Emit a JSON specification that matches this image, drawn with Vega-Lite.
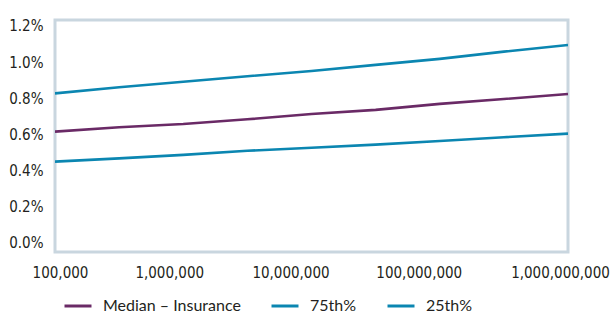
{
  "$schema": "https://vega.github.io/schema/vega-lite/v6.json",
  "width": 513,
  "height": 232,
  "autosize": "none",
  "padding": {"left": 55, "top": 20, "right": 45, "bottom": 63},
  "background": "white",
  "view": {"stroke": "#c9d6df", "strokeWidth": 3},
  "config": {"axis": {"labelFont": "DejaVu Sans Condensed", "labelColor": "#231f20"}},
  "data": {
    "values": [
      {"assets": 100000, "series": "Median – Insurance", "rate": 0.616},
      {"assets": 316228, "series": "Median – Insurance", "rate": 0.640},
      {"assets": 1000000, "series": "Median – Insurance", "rate": 0.658},
      {"assets": 3162278, "series": "Median – Insurance", "rate": 0.684},
      {"assets": 10000000, "series": "Median – Insurance", "rate": 0.713},
      {"assets": 31622777, "series": "Median – Insurance", "rate": 0.736},
      {"assets": 100000000, "series": "Median – Insurance", "rate": 0.769},
      {"assets": 316227766, "series": "Median – Insurance", "rate": 0.796},
      {"assets": 1000000000, "series": "Median – Insurance", "rate": 0.824},
      {"assets": 100000, "series": "75th%", "rate": 0.827},
      {"assets": 316228, "series": "75th%", "rate": 0.861},
      {"assets": 1000000, "series": "75th%", "rate": 0.892},
      {"assets": 3162278, "series": "75th%", "rate": 0.922},
      {"assets": 10000000, "series": "75th%", "rate": 0.951},
      {"assets": 31622777, "series": "75th%", "rate": 0.985},
      {"assets": 100000000, "series": "75th%", "rate": 1.018},
      {"assets": 316227766, "series": "75th%", "rate": 1.058},
      {"assets": 1000000000, "series": "75th%", "rate": 1.095},
      {"assets": 100000, "series": "25th%", "rate": 0.450},
      {"assets": 316228, "series": "25th%", "rate": 0.468},
      {"assets": 1000000, "series": "25th%", "rate": 0.487},
      {"assets": 3162278, "series": "25th%", "rate": 0.510},
      {"assets": 10000000, "series": "25th%", "rate": 0.527},
      {"assets": 31622777, "series": "25th%", "rate": 0.544},
      {"assets": 100000000, "series": "25th%", "rate": 0.564},
      {"assets": 316227766, "series": "25th%", "rate": 0.585},
      {"assets": 1000000000, "series": "25th%", "rate": 0.605}
    ]
  },
  "mark": {"type": "line", "strokeWidth": 2.6, "clip": true},
  "encoding": {
    "x": {
      "field": "assets",
      "type": "quantitative",
      "scale": {"type": "log", "domain": [100000, 1000000000], "nice": false},
      "axis": {
        "title": null,
        "domain": false,
        "ticks": false,
        "grid": false,
        "values": [100000, 1000000, 10000000, 100000000, 1000000000],
        "format": ",",
        "labelFontSize": 15,
        "labelPadding": 13,
        "labelFlush": false,
        "labelOverlap": false,
        "labelOffset": {"condition": [{"test": "datum.value < 200000", "value": 5}, {"test": "datum.value > 500000000", "value": -8}, {"test": "datum.value < 2000000", "value": -14}], "value": -21}
      }
    },
    "y": {
      "field": "rate",
      "type": "quantitative",
      "scale": {"domain": [-0.0498, 1.233], "nice": false, "zero": false},
      "axis": {
        "title": null,
        "domain": false,
        "ticks": false,
        "grid": false,
        "values": [0, 0.2, 0.4, 0.6, 0.8, 1.0, 1.2],
        "labelExpr": "format(datum.value, '.1f') + '%'",
        "labelFontSize": 15,
        "labelPadding": 12
      }
    },
    "color": {
      "field": "series",
      "type": "nominal",
      "sort": ["Median – Insurance", "75th%", "25th%"],
      "scale": {"domain": ["Median – Insurance", "75th%", "25th%"], "range": ["#6a2a66", "#0b86b1", "#0b86b1"]},
      "legend": {
        "title": null,
        "orient": "none",
        "direction": "horizontal",
        "legendX": 8,
        "legendY": 271,
        "symbolType": "stroke",
        "symbolSize": 729,
        "symbolStrokeWidth": 3,
        "labelFont": "Lato",
        "labelFontSize": 16,
        "labelColor": "#231f20",
        "labelOffset": 10,
        "columnPadding": 24,
        "labelLimit": 300
      }
    },
    "detail": {"field": "series"}
  }
}
